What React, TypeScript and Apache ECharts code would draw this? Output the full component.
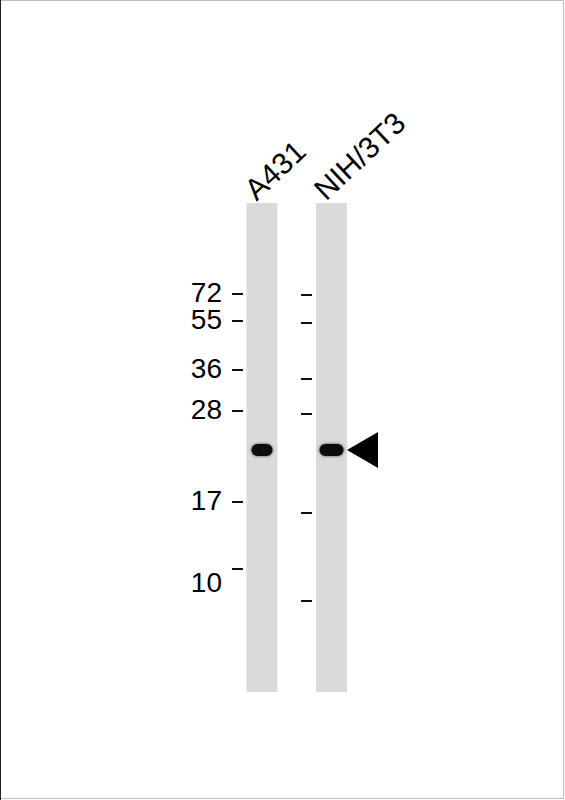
import React, { useEffect, useRef } from 'react';
import * as echarts from 'echarts';

// lanes of the blot
const laneNames = ['A431', 'NIH/3T3'];
const laneCenters = [262, 331.5]; // horizontal lane position
const laneTop = 203;
const laneBottom = 692;

// molecular weight ladder (kDa) and its migration distance next to each lane
const markerLabels = ['72', '55', '36', '28', '17', '10'];
const markerLeft = [294, 321, 370, 411, 502, 569];
const markerRight = [295, 323, 379, 414, 513, 601];

// detected bands: lane index and migration distance
const bandLanes = [0, 1];
const bandMigration = [450, 450];
const arrowLane = 1;

const FONT = '"Liberation Sans", Arial, Helvetica, sans-serif';
const bandWidths = [21, 24];

const App = () => {
    const chartRef = useRef(null);

    useEffect(() => {
        const chartDom = chartRef.current;
        if (!chartDom) return;

        const myChart = echarts.init(chartDom, null, { renderer: 'svg' });

        const option = {
            animation: false,
            backgroundColor: '#fff',
            grid: { left: 0, right: 0, top: 0, bottom: 0 },
            xAxis: { type: 'value', min: 0, max: 565, show: false },
            yAxis: { type: 'value', min: 0, max: 800, inverse: true, show: false },
            graphic: [
                {
                    type: 'rect',
                    shape: { x: 0.5, y: 0.5, width: 563, height: 798 },
                    style: { fill: 'none', stroke: '#bdbdbd', lineWidth: 1 },
                },
                {
                    type: 'line',
                    shape: { x1: 0.5, y1: 0, x2: 0.5, y2: 800 },
                    style: { stroke: '#222', lineWidth: 1 },
                },
            ],
            series: [
                {
                    // lanes + lane labels
                    type: 'custom',
                    data: laneNames.map((n, i) => [laneCenters[i], laneTop, laneBottom]),
                    renderItem: (params: any, api: any) => {
                        const top = api.coord([api.value(0), api.value(1)]);
                        const bot = api.coord([api.value(0), api.value(2)]);
                        const w = 31;
                        return {
                            type: 'group',
                            children: [
                                {
                                    type: 'rect',
                                    shape: { x: top[0] - w / 2, y: top[1], width: w, height: bot[1] - top[1] },
                                    style: { fill: '#dadada' },
                                },
                                {
                                    type: 'text',
                                    x: top[0] - w / 2 + 13,
                                    y: top[1] + 2,
                                    rotation: (43 * Math.PI) / 180,
                                    style: {
                                        text: laneNames[params.dataIndex],
                                        font: '30px ' + FONT,
                                        fill: '#000',
                                        align: 'left',
                                        verticalAlign: 'bottom',
                                    },
                                },
                            ],
                        };
                    },
                },
                {
                    // bands + arrow
                    type: 'custom',
                    data: bandLanes.map((l, i) => [laneCenters[l], bandMigration[i], l]),
                    renderItem: (params: any, api: any) => {
                        const p = api.coord([api.value(0), api.value(1)]);
                        const lane = api.value(2);
                        const bw = bandWidths[params.dataIndex];
                        const bh = 12;
                        const children: any[] = [
                            {
                                type: 'rect',
                                shape: { x: p[0] - bw / 2, y: p[1] - bh / 2, width: bw, height: bh, r: bh / 2 },
                                style: { fill: '#0d0d0d', shadowBlur: 3, shadowColor: 'rgba(0,0,0,0.7)' },
                            },
                        ];
                        if (lane === arrowLane) {
                            const x0 = p[0] + 15.5;
                            children.push({
                                type: 'polygon',
                                shape: { points: [[x0, p[1]], [x0 + 31, p[1] - 18], [x0 + 31, p[1] + 18]] },
                                style: { fill: '#000' },
                            });
                        }
                        return { type: 'group', children };
                    },
                },
                {
                    // ladder ticks and labels on the left lane
                    type: 'custom',
                    data: markerLabels.map((m, i) => [232, markerLeft[i]]),
                    renderItem: (params: any, api: any) => {
                        const p = api.coord([api.value(0), api.value(1)]);
                        const shift = params.dataIndex === markerLabels.length - 1 ? 13 : -2;
                        return {
                            type: 'group',
                            children: [
                                {
                                    type: 'line',
                                    shape: { x1: p[0], y1: p[1], x2: p[0] + 11, y2: p[1] },
                                    style: { stroke: '#111', lineWidth: 2 },
                                },
                                {
                                    type: 'text',
                                    x: p[0] - 10,
                                    y: p[1] + shift,
                                    style: {
                                        text: markerLabels[params.dataIndex],
                                        font: '28px ' + FONT,
                                        lineHeight: 24,
                                        fill: '#000',
                                        align: 'right',
                                        verticalAlign: 'middle',
                                    },
                                },
                            ],
                        };
                    },
                },
                {
                    // ladder ticks on the right lane
                    type: 'custom',
                    data: markerLabels.map((m, i) => [301, markerRight[i]]),
                    renderItem: (params: any, api: any) => {
                        const p = api.coord([api.value(0), api.value(1)]);
                        return {
                            type: 'line',
                            shape: { x1: p[0], y1: p[1], x2: p[0] + 11, y2: p[1] },
                            style: { stroke: '#111', lineWidth: 2 },
                        };
                    },
                },
            ],
        };

        myChart.setOption(option);

        return () => {
            myChart.dispose();
        };
    }, []);

    return (
        <div ref={chartRef} style={{ position: 'fixed', left: 0, top: 0, width: '565px', height: '800px' }}></div>
    );
};

export default App;
